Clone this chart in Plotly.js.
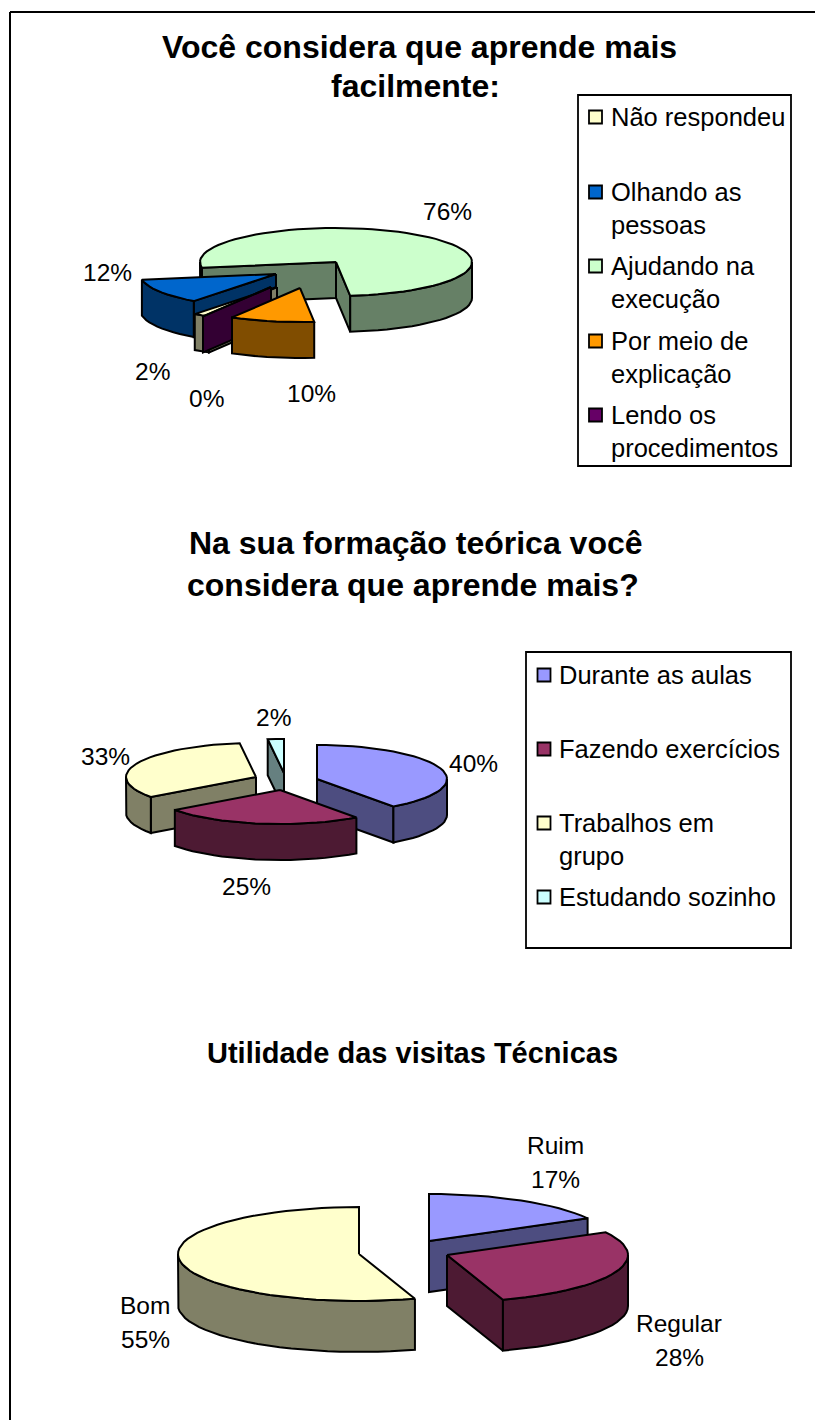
<!DOCTYPE html>
<html><head><meta charset="utf-8">
<script src="https://cdn.plot.ly/plotly-3.0.1.min.js"></script>
<style>html,body{margin:0;padding:0;background:#fff}#c{width:815px;height:1420px}</style>
</head><body><div id="c"></div>
<script>
// ---- data ----
const categories1 = ['Não respondeu','Olhando as<br>pessoas','Ajudando na<br>execução','Por meio de<br>explicação','Lendo os<br>procedimentos'];
const values1 = [2, 12, 76, 10, 0];
const categories2 = ['Durante as aulas','Fazendo exercícios','Trabalhos em<br>grupo','Estudando sozinho'];
const values2 = [40, 25, 33, 2];
const categories3 = ['Ruim','Regular','Bom'];
const values3 = [17, 28, 55];
const colors1 = ['#FFFFCC','#0066CC','#CCFFCC','#FF9900','#660066'];
const colors2 = ['#9999FF','#993366','#FFFFCC','#CCFFFF'];
const colors3 = ['#9999FF','#993366','#FFFFCC'];
const title1 = ['Você considera que aprende mais','facilmente:'];
const title2 = ['Na sua formação teórica você','considera que aprende mais?'];
const title3 = ['Utilidade das visitas Técnicas'];

// ---- layout of each pseudo-3D pie (tilted projection) ----
const pies = [
 {values:values1, colors:colors1, rotation:210, rx:136, ry:34, depth:36,
  apex:[[277,287],[276,274],[336,262],[300,288],[271,287]], order:[2,1,0,4,3]},
 {values:values2, colors:colors2, rotation:0, rx:130, ry:34, depth:36,
  apex:[[317,779],[280,790],[256,777],[284,773]], order:[3,2,0,1]},
 {values:values3, colors:colors3, rotation:0, rx:181, ry:47, depth:51,
  apex:[[429,1241],[447,1255],[359,1254]], order:[0,2,1]}
];
const OUT = 2;
function shade(hex){
  const n = parseInt(hex.slice(1),16);
  const h = v => Math.round(v/2).toString(16).padStart(2,'0');
  return '#'+h(n>>16&255)+h(n>>8&255)+h(n&255);
}
const traces = [];
function poly(pts, fill){
  traces.push({type:'scatter',mode:'lines',x:pts.map(p=>p[0]).concat(pts[0][0]),y:pts.map(p=>p[1]).concat(pts[0][1]),
    fill:'toself',fillcolor:fill,line:{color:'#000',width:OUT,shape:'linear'},hoverinfo:'skip',showlegend:false});
}
function drawPie(p){
  const total = p.values.reduce((a,b)=>a+b,0);
  let t = p.rotation; const spans = p.values.map(v=>{const s=[t,t+v/total*360]; t=s[1]; return s;});
  const at=(a,c,dy)=>{const r=a*Math.PI/180;return [c[0]+p.rx*Math.sin(r), c[1]-p.ry*Math.cos(r)+(dy||0)];};
  const arc=(a,b,c,dy)=>{const out=[];const n=Math.max(1,Math.ceil((b-a)/4));for(let i=0;i<=n;i++)out.push(at(a+(b-a)*i/n,c,dy));return out;};
  p.order.forEach(i=>{
    const [a,b]=spans[i], c=p.apex[i], fill=p.colors[i], side=shade(fill), d=p.depth;
    const low=[c[0],c[1]+d];
    const wall=ang=>poly([c,at(ang,c),at(ang,c,d),low],side);
    if(Math.sin(a*Math.PI/180)<-1e-6) wall(a);
    if(Math.sin(b*Math.PI/180)>1e-6) wall(b);
    for(let k=-1;k<3;k++){
      const lo=Math.max(a,90+360*k), hi=Math.min(b,270+360*k);
      if(hi>lo){ poly(arc(lo,hi,c,0).concat(arc(lo,hi,c,d).reverse()),side); }
    }
    if(b>a) poly([c].concat(arc(a,b,c,0)),fill);
    else traces.push({type:'scatter',mode:'lines',x:[c[0],at(a,c)[0]],y:[c[1],at(a,c)[1]],line:{color:'#000',width:OUT},hoverinfo:'skip',showlegend:false});
  });
}
pies.forEach(drawPie);

const annotations = [];
function label(text,x,y,size,bold,anchor){
  annotations.push({xref:'x',yref:'y',x:x,y:y,text:bold?'<b>'+text+'</b>':text,showarrow:false,
    xanchor:anchor||'center',yanchor:'middle',align:anchor||'center',borderpad:0,
    font:{family:'"Liberation Sans",Arial,sans-serif',size:size,color:'#000'}});
}
title1.forEach((s,i)=>label(s,[419,415][i],[47,86][i],32,true));
title2.forEach((s,i)=>label(s,[416,413][i],[543,585][i],32,true));
title3.forEach(s=>label(s,412,1053,29,true));

const pct = v => v+'%';
const LBL = 24.5;
const LEG = 25.5;
const pos1 = [[152,371],[107,272],[447,211],[311,393],[206,398]];
values1.forEach((v,i)=>label(pct(v),pos1[i][0],pos1[i][1],LBL));
const pos2 = [[473,763],[246,886],[105,756],[273,717]];
values2.forEach((v,i)=>label(pct(v),pos2[i][0],pos2[i][1],LBL));
const pos3 = [[555,1145],[679,1323],[145,1305]];
categories3.forEach((s,i)=>{label(s,pos3[i][0],pos3[i][1],LBL);label(pct(values3[i]),pos3[i][0],pos3[i][1]+34,LBL);});

const shapes = [
 {type:'line',xref:'x',yref:'y',x0:10,y0:12,x1:815,y1:12,line:{color:'#000',width:2}},
 {type:'line',xref:'x',yref:'y',x0:10,y0:12,x1:10,y1:1420,line:{color:'#000',width:2}},
 {type:'rect',xref:'x',yref:'y',x0:578,y0:95,x1:791,y1:466,line:{color:'#000',width:1.8},fillcolor:'rgba(0,0,0,0)'},
 {type:'rect',xref:'x',yref:'y',x0:526,y0:652,x1:791,y1:948,line:{color:'#000',width:1.8},fillcolor:'rgba(0,0,0,0)'}
];
function legend(cats,cols,ys,sx,tx){
  traces.push({type:'scatter',mode:'markers',x:ys.map(()=>sx),y:ys,hoverinfo:'skip',showlegend:false,
    marker:{symbol:'square',size:13,color:cols,line:{color:'#000',width:1.8}}});
  cats.forEach((c,i)=>c.split('<br>').forEach((ln,j)=>label(ln,tx,ys[i]+j*33,LEG,false,'left')));
}
legend(categories1,colors1,[117,192,266,341,415],595.5,610);
legend(categories2,colors2,[675,749,823,897],544,558);

Plotly.newPlot('c',traces,{
  width:815,height:1420,margin:{l:0,r:0,t:0,b:0,pad:0},paper_bgcolor:'#fff',plot_bgcolor:'#fff',showlegend:false,
  xaxis:{range:[0,815],visible:false,fixedrange:true},
  yaxis:{range:[1420,0],visible:false,fixedrange:true},
  shapes:shapes,annotations:annotations
},{displayModeBar:false,staticPlot:true});
</script></body></html>
